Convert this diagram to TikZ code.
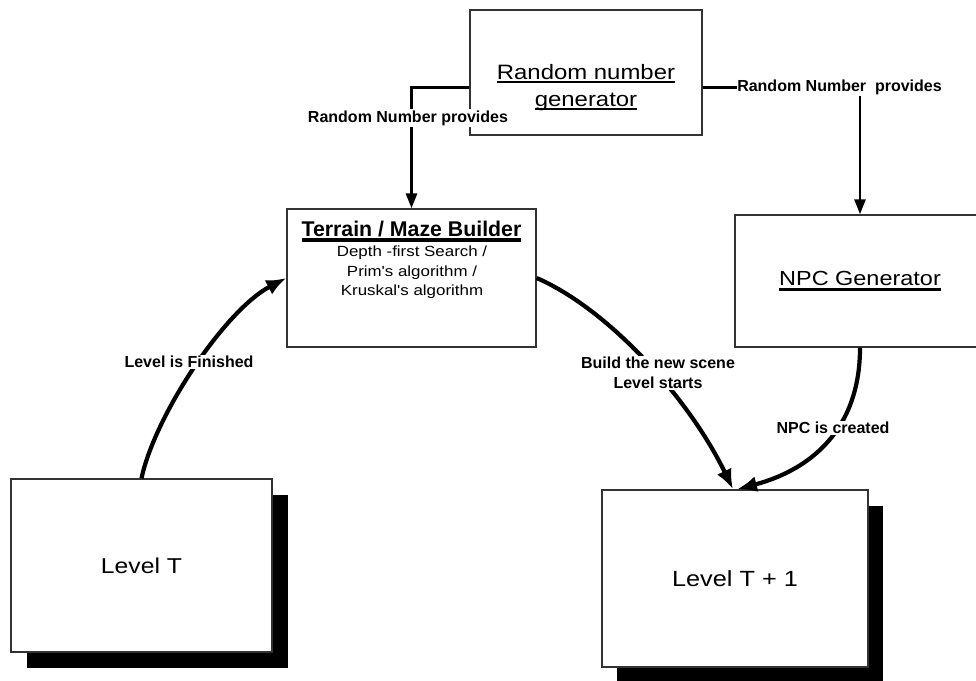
\documentclass[tikz,border=0pt]{standalone}
\usepackage{fontspec}
\setmainfont{Liberation Sans}
\newfontfamily\widefont[FakeStretch=1.15]{Liberation Sans}
\usetikzlibrary{arrows.meta,shadows}
\newcommand\myul[3]{\leavevmode\setbox0\hbox{#1}\rlap{\rule[-#2]{\wd0}{#3}}\box0}
\begin{document}
\begin{tikzpicture}[x=1pt,y=-1pt,
  box/.style={draw=black!80,line width=1.4pt,fill=white,inner sep=0pt},
  shad/.style={drop shadow={shadow xshift=#1,shadow yshift=-16pt,fill=black,opacity=1}},
  lab/.style={font=\fontsize{16}{20}\selectfont\bfseries,fill=white,inner sep=1.5pt,align=center},
  conn/.style={line width=3pt,black},
  tip/.style={-{Triangle[width=11pt,length=15pt]}},
  curv/.style={line width=4.2pt,black,-{Latex[width=16pt,length=20pt]}},
  ]
\clip (0,0) rectangle (976,680);
\fill[white] (0,0) rectangle (976,680);

% boxes
\node[box,minimum width=232pt,minimum height=125pt] (rng) at (586,72.5) {};
\node[box,minimum width=249pt,minimum height=138pt] (ter) at (411.5,278) {};
\node[box,minimum width=250pt,minimum height=132pt,
      font=\widefont\fontsize{20.4}{24}\selectfont] (npc) at (860,281)
      {\myul{NPC Generator}{5.5pt}{2.6pt}};
\node[box,shad=16pt,minimum width=261pt,minimum height=173pt,
      font=\widefont\fontsize{21.5}{25}\selectfont] (lvl1) at (141.5,565.5) {Level T};
\node[box,shad=15pt,minimum width=266pt,minimum height=177pt,
      font=\widefont\fontsize{22}{25}\selectfont] (lvl2) at (735,578.5) {Level T + 1};

% texts inside boxes
\node[align=center,inner sep=0pt,font=\widefont\fontsize{20.8}{27}\selectfont] (rngt) at (586,88)
  {\myul{Random number}{3.5pt}{2pt}\\\myul{generator}{3.5pt}{2pt}};
\node[anchor=base,inner sep=0pt,font=\fontsize{21.3}{24}\selectfont\bfseries] (tert) at (411.5,236)
  {\myul{Terrain / Maze Builder}{5.7pt}{4pt}};
\node[align=center,inner sep=0pt,font=\widefont\fontsize{14.7}{19.5}\selectfont] (tera) at (412,272.5)
  {Depth -first Search /\\Prim's algorithm /\\Kruskal's algorithm};

% elbow connectors from the random number generator
\coordinate (ly) at (0,87);
\coordinate (rj) at (860,96);
\draw[conn,tip] (rng.west |- ly) -| (ter.north);
\node[lab] (llab) at (408,118) {Random Number provides};
\node[lab,inner sep=0pt] (rlab) at (839.5,87) {Random Number\ \ provides};
\draw[conn] (rng.east |- ly) -- (rlab.west);
\draw[conn,tip,line width=2.6pt] (rj) -- (rj |- npc.north);

% curved connectors
\draw[curv] (lvl1.north) .. controls (155,415) and (225,310) .. (ter.west);
\draw[curv] (ter.east) .. controls (610,310) and (690,400) .. ([xshift=-2pt]lvl2.north);
\draw[curv] (npc.south) .. controls (860,430) and (810,470) .. ([xshift=2pt]lvl2.north);

\node[lab] (fin) at (189,362) {Level is Finished};
\node[lab] (build) at (658,373) {Build the new scene\\Level starts};
\node[lab] (npcc) at (833,428) {NPC is created};
\end{tikzpicture}
\end{document}
